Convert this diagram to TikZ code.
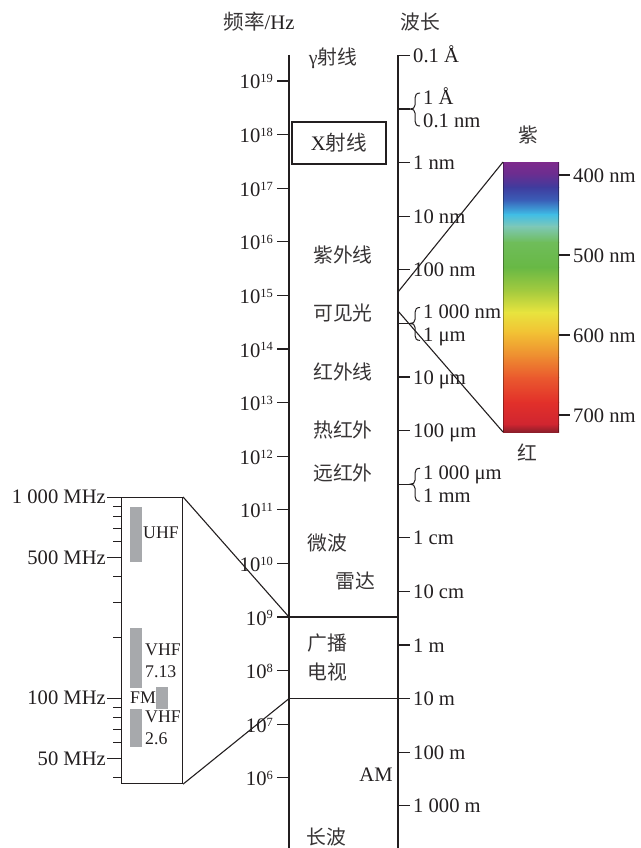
\documentclass[tikz,border=0pt]{standalone}
\usepackage{fontspec}
\setmainfont{Liberation Serif}
\newfontfamily\cjk{Noto Sans CJK SC}
\newcommand\mysup[1]{\raisebox{0.3em}{\fontsize{12.5}{12.5}\selectfont #1}}
\definecolor{ink}{RGB}{35,31,32}
\definecolor{cnink}{RGB}{55,52,53}
\definecolor{barg}{RGB}{167,169,172}
\definecolor{s0}{HTML}{7E2A8C}
\definecolor{s1}{HTML}{6A2E90}
\definecolor{s2}{HTML}{3F3C9E}
\definecolor{s3}{HTML}{3A5FB8}
\definecolor{s4}{HTML}{3FBDE6}
\definecolor{s5}{HTML}{7EC8B8}
\definecolor{s6}{HTML}{6FBD5A}
\definecolor{s7}{HTML}{68B845}
\definecolor{s8}{HTML}{A8CC3E}
\definecolor{s9}{HTML}{E8E43E}
\definecolor{s10}{HTML}{F2C234}
\definecolor{s11}{HTML}{EE8A30}
\definecolor{s12}{HTML}{EA5A2E}
\definecolor{s13}{HTML}{E2302A}
\definecolor{s14}{HTML}{D02530}
\definecolor{s15}{HTML}{8C1E2A}
\begin{document}
\begin{tikzpicture}[x=1pt,y=-1pt,
  lbl/.style={font=\fontsize{20.6}{24}\selectfont, inner sep=0pt, text=ink},
  cn/.style={font=\cjk\fontsize{19.8}{24}\selectfont, inner sep=0pt, text=cnink},
  sm/.style={font=\fontsize{17.8}{20}\selectfont, inner sep=0pt, text=ink},
  axisln/.style={line width=2.8pt, draw=ink},
  tk/.style={line width=1.3pt, draw=ink},
  thinln/.style={line width=1.1pt, draw=ink},
  wbr/.pic={
    \draw[tk] (0,0) -- (12,0);
    \draw[line width=1pt, draw=ink] (22,-16) .. controls (18.5,-16) and (17,-14) .. (17,-11) -- (17,-4)
      .. controls (17,-1) and (15,0) .. (12,0) .. controls (15,0) and (17,1) .. (17,4) -- (17,12)
      .. controls (17,15) and (18.5,17) .. (22,17);
  },
]
\useasboundingbox (0,0) rectangle (640,848);

% headers
\node[lbl] (hf) at (259,22) {{\cjk\color{cnink} 频率}/Hz};
\node[cn] (hw) at (420,22) {波长};

% axes
\coordinate (axLt) at (289,55);
\coordinate (axLb) at (289,849);
\coordinate (axRt) at (398,55.4);
\coordinate (axRb) at (398,849);
\draw[axisln] (axLt) -- (axLb);
\draw[axisln] (axRt) -- (axRb);

% frequency ticks
\foreach \n in {6,...,19} {
  \pgfmathsetmacro\yy{81+(19-\n)*53.6}
  \draw[tk] (277,\yy) -- (289,\yy);
  \node[lbl,anchor=base east] (f\n) at (273,\yy+8) {10\mysup{\n}};
}

% wavelength ticks
\foreach \k/\t in {-11/0.1 Å, -9/1 nm, -8/10 nm, -7/100 nm, -5/10 μm, -4/100 μm, -2/1 cm, -1/10 cm, 0/1 m, 1/10 m, 2/100 m, 3/1 000 m} {
  \pgfmathsetmacro\yy{81+(10.523+\k)*53.6}
  \draw[tk] (398,\yy) -- (410,\yy);
  \node[lbl,anchor=base west] (w\k) at (413,\yy+7) {\t};
}
\foreach \k/\ta/\tb in {-10/1 Å/0.1 nm, -6/1 000 nm/1 μm, -3/1 000 μm/1 mm} {
  \pgfmathsetmacro\yy{81+(10.523+\k)*53.6}
  \pic at (398,\yy) {wbr};
  \node[lbl,anchor=base west] (b\k a) at (423,\yy-5) {\ta};
  \node[lbl,anchor=base west] (b\k b) at (423,\yy+18) {\tb};
}

% band boundaries
\coordinate (ax9) at (289,617);
\coordinate (ax9r) at (398,617);
\coordinate (ax10m) at (289,698.6);
\coordinate (ax10mr) at (398,698.6);
\draw[thinln] (ax9) -- (ax9r);
\draw[thinln] (ax10m) -- (ax10mr);

% column labels
\node[cn] (gam) at (333,58) {{\rmfamily γ}射线};
\node[lbl,draw=ink,line width=1.6pt,minimum width=94pt,minimum height=42pt] (xray) at (339,143) {X{\cjk\color{cnink}射线}};
\node[cn] (uv) at (343,255) {紫外线};
\node[cn] (vis) at (343,313) {可见光};
\node[cn] (ir) at (343,372) {红外线};
\node[cn] (tir) at (343,430) {热红外};
\node[cn] (fir) at (343,473) {远红外};
\node[cn] (mw) at (327,543) {微波};
\node[cn] (radar) at (355,581) {雷达};
\node[cn] (bc) at (327,643) {广播};
\node[cn] (tv) at (327,672) {电视};
\node[lbl] (am) at (376,775) {AM};
\node[cn] (lw) at (326,837) {长波};

% visible spectrum bar
\foreach \ya/\ca/\yb/\cb in {0/s0/12/s1, 12/s1/25/s2, 25/s2/38/s3, 38/s3/52/s4, 52/s4/64/s5, 64/s5/80/s6, 80/s6/105/s7, 105/s7/130/s8, 130/s8/150/s9, 150/s9/170/s10, 170/s10/195/s11, 195/s11/215/s12, 215/s12/240/s13, 240/s13/262/s14, 262/s14/270/s15} {
  \shade[top color=\ca, bottom color=\cb] (503,162+\ya) rectangle (559,{162+min(\yb+0.6,270)});
}
\draw[black, opacity=0.35, line width=1.2pt] (503.6,162) -- (503.6,432);
\draw[black, opacity=0.35, line width=1.2pt] (558.4,162) -- (558.4,432);
\coordinate (spTL) at (503,162);
\coordinate (spBL) at (503,432);
\coordinate (vU) at (398,292);
\coordinate (vL) at (398,311);
\draw[thinln] (vU) -- (spTL);
\draw[thinln] (vL) -- (spBL);
\foreach \v/\yy in {400/175, 500/255, 600/335, 700/415} {
  \draw[tk] (559,\yy) -- (570,\yy);
  \node[lbl,anchor=base west] (sp\v) at (573,\yy+7) {\v{} nm};
}
\node[cn] (violet) at (528,135) {紫};
\node[cn] (red) at (527,452) {红};

% inset
\node[draw=ink,line width=1.1pt,minimum width=61pt,minimum height=286pt,anchor=north west,inner sep=0pt] (inset) at (121,497) {};
\draw[thinln] (inset.north east) -- (ax9);
\draw[thinln] (inset.south east) -- (ax10m);
\foreach \f in {900,800,700,600,400,300,200,90,80,70,60,40} {
  \pgfmathsetmacro\yy{497+201*log10(1000/\f)}
  \draw[line width=1pt, draw=ink] (113,\yy) -- (121,\yy);
}
\foreach \f/\t in {1000/1 000 MHz, 500/500 MHz, 100/100 MHz, 50/50 MHz} {
  \pgfmathsetmacro\yy{497+201*log10(1000/\f)}
  \draw[line width=1pt, draw=ink] (107,\yy) -- (121,\yy);
  \node[lbl,anchor=east] (m\f) at (106,\yy) {\t};
}
\fill[barg] (130,507) rectangle (142,562);
\fill[barg] (130,628) rectangle (142,688);
\fill[barg] (156,687) rectangle (168,709);
\fill[barg] (130,709) rectangle (142,747);
\node[sm,anchor=west] (uhf) at (143,533) {UHF};
\node[sm,anchor=west] (vhf1) at (145,650) {VHF};
\node[sm,anchor=west] (vhf1n) at (145,672) {7.13};
\node[sm,anchor=west] (fm) at (130,698) {FM};
\node[sm,anchor=west] (vhf2) at (145,717) {VHF};
\node[sm,anchor=west] (vhf2n) at (145,739) {2.6};
\end{tikzpicture}
\end{document}
